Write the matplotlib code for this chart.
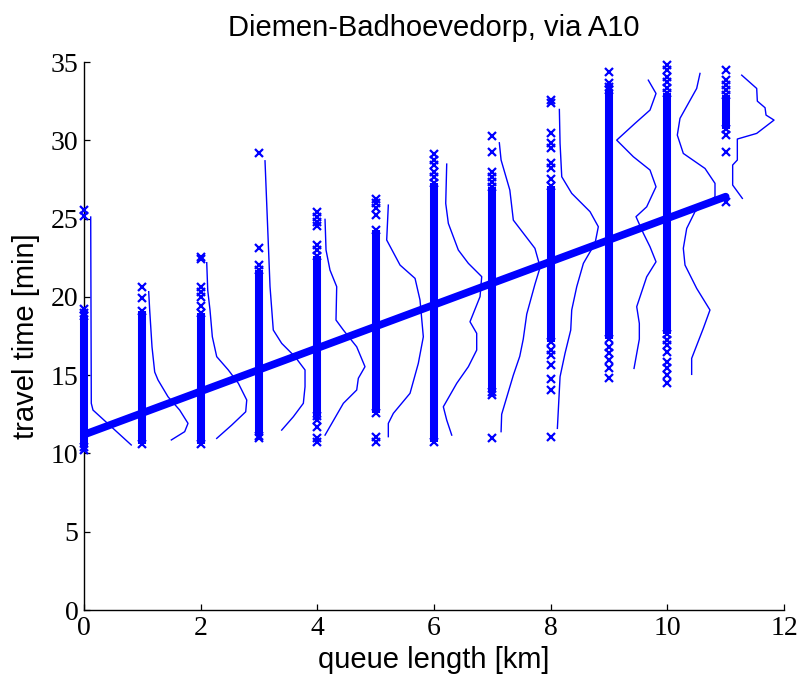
import matplotlib
matplotlib.use("Agg")
import matplotlib.pyplot as plt

# queue length classes [km]
queue_km = [0, 1, 2, 3, 4, 5, 6, 7, 8, 9, 10, 11]

# dense band of travel times per class [min]
dense_lo = [10.4, 10.6, 10.6, 11.1, 12.4, 12.6, 10.7, 13.9, 17.1, 17.3, 17.6, 30.7]
dense_hi = [18.8, 19.1, 19.0, 21.7, 22.6, 24.3, 27.3, 27.0, 27.1, 33.2, 33.0, 32.9]

# single observations outside the dense band
outliers = [
    [25.54, 25.16, 19.2, 19.0, 10.2],
    [20.65, 19.94],
    [22.56, 22.39, 20.65, 20.33, 20.01, 19.43],
    [29.2, 23.14, 22.03, 11.0],
    [25.43, 25.1, 24.8, 24.5, 23.3, 22.99, 12.13, 11.7, 10.96, 10.75],
    [26.28, 25.97, 25.65, 25.22, 11.07, 10.75],
    [29.12, 28.74, 28.42, 28.0, 27.67],
    [30.27, 29.27, 27.99, 27.67, 27.35, 13.73, 10.96],
    [32.57, 32.35, 30.48, 29.8, 29.48, 28.52, 28.2, 27.5, 16.6, 16.28, 15.65, 14.73, 14.05, 11.07],
    [34.38, 33.63, 33.42, 16.81, 16.39, 15.96, 15.43, 14.8],
    [34.8, 34.48, 34.06, 33.74, 33.31, 17.24, 16.92, 16.5, 15.86, 15.43, 15.0, 14.48],
    [34.48, 33.84, 33.52, 33.2, 30.33, 29.27, 26.07],
]

# distribution curves drawn beside each column (x position, travel time)
curve_x = [
    [0.115, 0.125, 0.154, 0.81],
    [1.109, 1.126, 1.166, 1.212, 1.269, 1.44, 1.64, 1.783, 1.726, 1.497],
    [2.104, 2.121, 2.16, 2.2, 2.275, 2.474, 2.646, 2.79, 2.772, 2.532, 2.275],
    [3.103, 3.189, 3.245, 3.389, 3.617, 3.789, 3.789, 3.76, 3.588, 3.389],
    [4.132, 4.149, 4.217, 4.332, 4.32, 4.446, 4.675, 4.817, 4.703, 4.675, 4.446, 4.132],
    [5.217, 5.189, 5.418, 5.675, 5.76, 5.817, 5.731, 5.589, 5.303, 5.217, 5.217],
    [6.218, 6.201, 6.246, 6.417, 6.589, 6.818, 6.789, 6.617, 6.732, 6.732, 6.589, 6.39, 6.16, 6.218, 6.304],
    [7.12, 7.15, 7.30, 7.36, 7.73, 7.82, 7.73, 7.59, 7.53, 7.47, 7.36, 7.16, 7.15],
    [8.149, 8.161, 8.19, 8.361, 8.675, 8.817, 8.761, 8.561, 8.447, 8.361, 8.344, 8.246, 8.161, 8.115],
    [9.674, 9.806, 9.703, 9.446, 9.132, 9.417, 9.703, 9.806, 9.646, 9.463, 9.589, 9.703, 9.806, 9.646,
     9.475, 9.52, 9.52, 9.429],
    [10.56, 10.503, 10.217, 10.171, 10.274, 10.646, 10.817, 10.817, 10.474, 10.332, 10.274, 10.303,
     10.503, 10.731, 10.617, 10.417, 10.417],
    [11.275, 11.532, 11.543, 11.675, 11.692, 11.829, 11.532, 11.2, 11.2, 11.12, 11.12, 11.286],
]
curve_y = [
    [25.1, 13.2, 12.77, 10.54],
    [20.33, 19.16, 16.8, 15.2, 14.69, 13.62, 12.77, 11.92, 11.39, 10.86],
    [22.18, 20.43, 19.16, 17.45, 16.18, 15.33, 14.48, 13.41, 12.66, 11.81, 10.96],
    [28.69, 20.65, 17.88, 17.03, 16.18, 15.33, 14.26, 13.2, 12.34, 11.49],
    [24.95, 22.99, 21.71, 20.65, 18.52, 17.88, 16.81, 15.54, 14.8, 14.05, 13.2, 11.17],
    [25.86, 23.63, 22.03, 21.18, 19.8, 17.45, 15.75, 13.84, 12.56, 11.92, 11.07],
    [28.48, 25.97, 24.69, 22.99, 22.14, 21.29, 20.01, 18.41, 17.67, 16.6, 15.54, 14.48, 12.98, 12.13, 11.17],
    [29.84, 28.74, 26.82, 24.9, 23.1, 21.9, 20.8, 18.9, 17.3, 16.2, 15.0, 12.5, 11.39],
    [31.97, 29.8, 27.67, 26.61, 25.44, 24.48, 23.42, 22.14, 20.65, 19.16, 17.88, 16.39, 14.9, 11.6],
    [33.84, 32.99, 31.93, 31.08, 30.01, 28.95, 28.1, 27.03, 25.75, 25.12, 24.06, 23.2, 22.24, 21.28,
     19.37, 18.3, 17.3, 15.43],
    [34.27, 33.31, 31.4, 30.33, 29.16, 28.2, 27.25, 26.39, 25.44, 24.37, 23.1, 22.03, 20.54, 19.16,
     17.99, 16.07, 15.05],
    [34.16, 33.31, 32.5, 32.08, 31.61, 31.29, 30.44, 30.08, 28.74, 28.42, 27.14, 26.29],
]

# fitted linear trend
fit_x = [0, 11]
fit_y = [11.2, 26.4]

x_ticks = [0, 2, 4, 6, 8, 10, 12]
y_ticks = [0, 5, 10, 15, 20, 25, 30, 35]

blue = '#0000ff'
sans = ['Liberation Sans', 'DejaVu Sans']
serif = ['Liberation Serif', 'DejaVu Serif']

fig = plt.figure(figsize=(8.04, 6.85), dpi=100)
ax = fig.add_axes([84 / 804, 75 / 685, 700 / 804, 548 / 685])

for i, k in enumerate(queue_km):
    # dense band of overlapping markers
    ax.vlines(k, dense_lo[i], dense_hi[i], color=blue, lw=5.8, zorder=3, clip_on=False)
    pts = outliers[i] + [dense_lo[i], dense_hi[i]]
    ax.plot([k] * len(pts), pts, 'x', color=blue, ms=6, mew=1.6, zorder=3, clip_on=False)
    ax.plot(curve_x[i], curve_y[i], '-', color=blue, lw=1.0, zorder=4)

ax.plot(fit_x, fit_y, '-', color=blue, lw=5.5, solid_capstyle='round', zorder=5)

ax.set_xlim(0, 12)
ax.set_ylim(0, 35)
ax.set_xticks(x_ticks)
ax.set_yticks(y_ticks)
ax.spines['top'].set_visible(False)
ax.spines['right'].set_visible(False)
for s in ['left', 'bottom']:
    ax.spines[s].set_linewidth(1.0)
ax.tick_params(direction='in', length=4, width=0.9, labelsize=20, pad=4)
for lab in ax.get_xticklabels() + ax.get_yticklabels():
    lab.set_family(serif)

ax.set_xlabel('queue length [km]', fontsize=21, family=sans, labelpad=4)
ax.set_ylabel('travel time [min]', fontsize=21, family=sans, labelpad=8)
ax.set_title('Diemen-Badhoevedorp, via A10', fontsize=21, family=sans, pad=19)

fig.savefig('out.png', dpi=100)
